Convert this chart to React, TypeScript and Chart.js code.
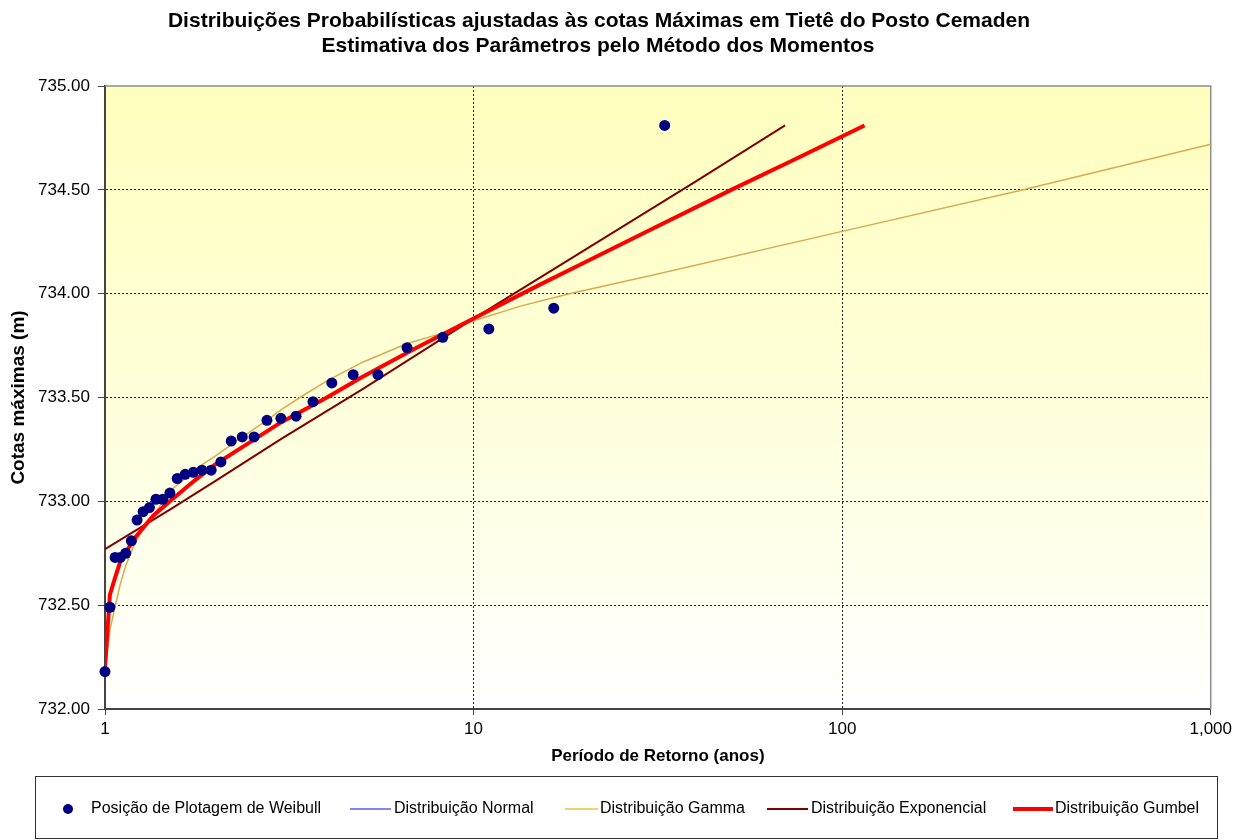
import React, { useEffect, useRef } from "react";
import { Chart, registerables } from "chart.js";

Chart.register(...registerables);

const titleLines = [
  "Distribuições Probabilísticas ajustadas às cotas Máximas em Tietê do Posto Cemaden",
  "Estimativa dos Parâmetros pelo Método dos Momentos",
];
const xAxisTitle = "Período de Retorno (anos)";
const yAxisTitle = "Cotas máximas (m)";
const xTickValues = [1, 10, 100, 1000];
const yTickMin = 732;
const yTickMax = 735;
const yTickStep = 0.5;

const seriesNames = [
  "Posição de Plotagem de Weibull",
  "Distribuição Normal",
  "Distribuição Gamma",
  "Distribuição Exponencial",
  "Distribuição Gumbel",
];

// Weibull plotting positions (return period, observed max level)
const weibullT = [33, 16.5, 11, 8.25, 6.6, 5.5, 4.714, 4.125, 3.667, 3.3, 3.0, 2.75, 2.538, 2.357, 2.2, 2.063, 1.941, 1.833, 1.737, 1.65, 1.571, 1.5, 1.435, 1.375, 1.32, 1.269, 1.222, 1.179, 1.138, 1.1, 1.065, 1.031, 1.0];
const weibullCota = [734.81, 733.93, 733.83, 733.79, 733.74, 733.61, 733.61, 733.57, 733.48, 733.41, 733.40, 733.39, 733.31, 733.31, 733.29, 733.19, 733.15, 733.15, 733.14, 733.13, 733.11, 733.04, 733.01, 733.01, 732.97, 732.95, 732.91, 732.81, 732.75, 732.73, 732.73, 732.49, 732.18];

// Normal distribution (not visible in the plot area)
const normalT: number[] = [];
const normalCota: number[] = [];

const gammaT = [1.0, 1.031, 1.064, 1.1, 1.138, 1.193, 1.269, 1.352, 1.5, 1.65, 1.81, 2.0, 2.23, 2.5, 2.75, 3.0, 3.38, 4.0, 5.0, 6.6, 8.25, 10, 13.4, 18.2, 30.7, 100, 310, 1000];
const gammaCota = [732.18, 732.38, 732.49, 732.60, 732.69, 732.78, 732.87, 732.93, 733.05, 733.11, 733.17, 733.22, 733.28, 733.34, 733.39, 733.44, 733.50, 733.58, 733.67, 733.76, 733.81, 733.87, 733.94, 734.00, 734.09, 734.30, 734.50, 734.72];

const expT = [1, 1.5, 2, 3, 5, 10, 20, 40, 70];
const expCota = [732.77, 732.96, 733.10, 733.30, 733.54, 733.88, 734.21, 734.54, 734.81];

const gumbelT = [1.0, 1.031, 1.064, 1.1, 1.2, 1.35, 1.5, 1.75, 2, 2.5, 3, 4, 5, 7, 10, 15, 20, 30, 50, 75, 115];
const gumbelCota = [732.20, 732.55, 732.63, 732.71, 732.82, 732.93, 733.00, 733.10, 733.18, 733.29, 733.38, 733.50, 733.60, 733.74, 733.88, 734.04, 734.15, 734.305, 734.50, 734.65, 734.81];

const COLORS = {
  weibull: "#000080",
  normal: "#5A5AFF",
  gamma: "#D9AA50",
  exp: "#800000",
  gumbel: "#FF0000",
};

const FONT = "'Liberation Sans', Arial, sans-serif";

const pts = (xs: number[], ys: number[]) => xs.map((x, i) => ({ x, y: ys[i] }));

export default function App() {
  const ref = useRef<HTMLCanvasElement>(null);

  useEffect(() => {
    const canvas = ref.current;
    if (!canvas) return;

    const bgPlugin = {
      id: "bgPlugin",
      beforeDraw(chart: any) {
        const { ctx, chartArea: a } = chart;
        const g = ctx.createLinearGradient(0, a.top, 0, a.bottom);
        g.addColorStop(0, "#FFFFBE");
        g.addColorStop(0.45, "#FFFFD8");
        g.addColorStop(0.75, "#FFFFEC");
        g.addColorStop(1, "#FFFFFF");
        ctx.save();
        ctx.fillStyle = g;
        ctx.fillRect(a.left, a.top, a.right - a.left, a.bottom - a.top);
        ctx.restore();
      },
      beforeDatasetsDraw(chart: any) {
        const { ctx, chartArea: a } = chart;
        ctx.save();
        ctx.strokeStyle = "#8C8C8C";
        ctx.lineWidth = 1.5;
        ctx.beginPath();
        ctx.moveTo(a.left, a.top);
        ctx.lineTo(a.right, a.top);
        ctx.lineTo(a.right, a.bottom);
        ctx.stroke();
        ctx.restore();
      },
    };

    const titlePlugin = {
      id: "titlePlugin",
      afterDraw(chart: any) {
        const { ctx } = chart;
        ctx.save();
        ctx.fillStyle = "#000";
        ctx.font = `bold 21px ${FONT}`;
        ctx.textAlign = "center";
        ctx.textBaseline = "middle";
        ctx.fillText(titleLines[0], 599, 21);
        ctx.fillText(titleLines[1], 598, 46);
        ctx.restore();
      },
    };

    const legendPlugin = {
      id: "legendPlugin",
      afterDraw(chart: any) {
        const { ctx } = chart;
        ctx.save();
        ctx.strokeStyle = "#333";
        ctx.lineWidth = 1;
        ctx.strokeRect(35.5, 776.5, 1182, 62);
        const y = 809;
        ctx.font = `16px ${FONT}`;
        ctx.fillStyle = "#000";
        ctx.textBaseline = "middle";
        ctx.textAlign = "left";
        ctx.fillStyle = COLORS.weibull;
        ctx.beginPath();
        ctx.arc(68, y, 5, 0, Math.PI * 2);
        ctx.fill();
        ctx.fillStyle = "#000";
        ctx.fillText(seriesNames[0], 91, y);
        const lineItems = [
          { name: seriesNames[1], color: COLORS.normal, w: 1.5, x0: 350, x1: 391, tx: 394 },
          { name: seriesNames[2], color: "#F2C230", w: 1.5, x0: 565, x1: 598, tx: 600 },
          { name: seriesNames[3], color: COLORS.exp, w: 2, x0: 767, x1: 808, tx: 811 },
          { name: seriesNames[4], color: COLORS.gumbel, w: 4, x0: 1013, x1: 1053, tx: 1055 },
        ];
        lineItems.forEach((it) => {
          ctx.strokeStyle = it.color;
          ctx.lineWidth = it.w;
          ctx.beginPath();
          ctx.moveTo(it.x0, y);
          ctx.lineTo(it.x1, y);
          ctx.stroke();
          ctx.fillStyle = "#000";
          ctx.fillText(it.name, it.tx, y);
        });
        ctx.restore();
      },
    };

    const chart = new Chart(canvas, {
      type: "scatter",
      data: {
        datasets: [
          {
            label: seriesNames[0],
            data: pts(weibullT, weibullCota),
            backgroundColor: COLORS.weibull,
            borderColor: COLORS.weibull,
            pointRadius: 5.5,
            pointBorderWidth: 0,
            showLine: false,
            clip: 10,
            order: 0,
          },
          {
            label: seriesNames[1],
            data: pts(normalT, normalCota),
            borderColor: COLORS.normal,
            backgroundColor: COLORS.normal,
            showLine: true,
            pointRadius: 0,
            borderWidth: 1.5,
            order: 4,
          },
          {
            label: seriesNames[2],
            data: pts(gammaT, gammaCota),
            borderColor: COLORS.gamma,
            backgroundColor: COLORS.gamma,
            showLine: true,
            pointRadius: 0,
            borderWidth: 1.5,
            order: 3,
          },
          {
            label: seriesNames[3],
            data: pts(expT, expCota),
            borderColor: COLORS.exp,
            backgroundColor: COLORS.exp,
            showLine: true,
            pointRadius: 0,
            borderWidth: 2,
            order: 2,
          },
          {
            label: seriesNames[4],
            data: pts(gumbelT, gumbelCota),
            borderColor: COLORS.gumbel,
            backgroundColor: COLORS.gumbel,
            showLine: true,
            pointRadius: 0,
            borderWidth: 4,
            borderJoinStyle: "round",
            order: 1,
          },
        ] as any,
      },
      options: {
        animation: false,
        responsive: true,
        maintainAspectRatio: false,
        layout: { padding: { top: 86, right: 25, bottom: 71, left: 0 } },
        plugins: {
          legend: { display: false },
          title: { display: false },
          tooltip: { enabled: false },
        },
        scales: {
          x: {
            type: "logarithmic",
            min: 1,
            max: 1000,
            afterBuildTicks: (axis: any) => {
              axis.ticks = xTickValues.map((v) => ({ value: v }));
            },
            afterFit: (s: any) => {
              s.height = 60;
            },
            ticks: {
              autoSkip: false,
              maxRotation: 0,
              padding: 4,
              color: "#000",
              font: { family: FONT, size: 17 },
              callback: (v: any) => Number(v).toLocaleString("en-US"),
            },
            grid: {
              color: (c: any) =>
                c.tick && (c.tick.value === 10 || c.tick.value === 100) ? "#222" : "rgba(0,0,0,0)",
              lineWidth: 1,
              tickLength: 6,
              tickColor: "#444",
              tickBorderDash: [],
            } as any,
            border: { color: "#444", width: 2, dash: [2, 2] },
            title: {
              display: true,
              text: xAxisTitle,
              color: "#000",
              font: { family: FONT, size: 17, weight: "bold" },
              padding: { top: 0, bottom: 2 },
            },
          },
          y: {
            min: yTickMin,
            max: yTickMax,
            afterFit: (s: any) => {
              s.width = 105;
            },
            ticks: {
              stepSize: yTickStep,
              padding: 8,
              color: "#000",
              font: { family: FONT, size: 17 },
              callback: (v: any) => Number(v).toFixed(2),
            },
            grid: {
              color: (c: any) =>
                c.tick && c.tick.value > yTickMin && c.tick.value < yTickMax ? "#222" : "rgba(0,0,0,0)",
              lineWidth: 1,
              tickLength: 7,
              tickColor: "#444",
              tickBorderDash: [],
            } as any,
            border: { color: "#444", width: 2, dash: [2, 2] },
            title: {
              display: true,
              text: yAxisTitle,
              color: "#000",
              font: { family: FONT, size: 19, weight: "bold" },
              padding: { top: 7, bottom: 0 },
            },
          },
        },
      } as any,
      plugins: [bgPlugin, titlePlugin, legendPlugin],
    });

    return () => chart.destroy();
  }, []);

  return (
    <div style={{ position: "absolute", left: 0, top: 0, width: 1236, height: 840, background: "#fff" }}>
      <canvas ref={ref} />
    </div>
  );
}
